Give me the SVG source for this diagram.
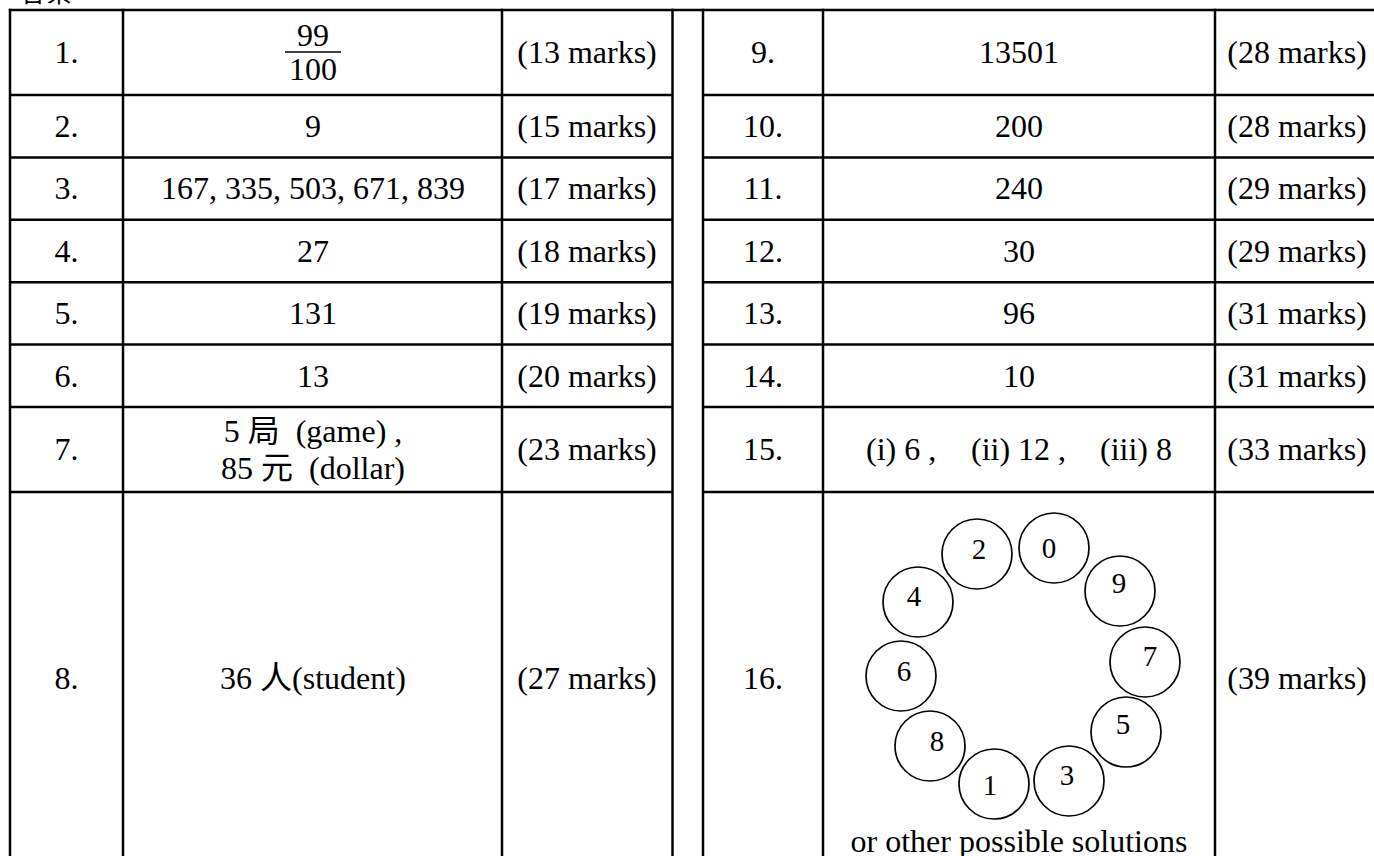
<svg xmlns="http://www.w3.org/2000/svg" width="1374" height="856" viewBox="0 0 1374 856">
<style>
.t{font-family:"Liberation Serif","Noto Sans CJK TC",serif;font-size:32px;text-anchor:middle;fill:#000}
.s{text-anchor:start}
.h{font-family:"Noto Sans CJK TC",sans-serif;font-size:26px;fill:#000}
.c{font-family:"Liberation Serif",serif;font-size:29px;text-anchor:middle;fill:#000}
.ln{stroke:#000;stroke-width:2.5;fill:none}
.ring{stroke:#000;stroke-width:1.7;fill:none}
</style>
<rect width="1374" height="856" fill="#fff"/>
<text class="h" x="20" y="2">答案</text>
<g id="grid">
<line class="ln" x1="8.8" y1="10" x2="1380" y2="10"/>
<line class="ln" x1="10" y1="95" x2="672.5" y2="95"/>
<line class="ln" x1="10" y1="157.4" x2="672.5" y2="157.4"/>
<line class="ln" x1="10" y1="219.8" x2="672.5" y2="219.8"/>
<line class="ln" x1="10" y1="282.2" x2="672.5" y2="282.2"/>
<line class="ln" x1="10" y1="344.6" x2="672.5" y2="344.6"/>
<line class="ln" x1="10" y1="407" x2="672.5" y2="407"/>
<line class="ln" x1="10" y1="492" x2="672.5" y2="492"/>
<line class="ln" x1="703" y1="95" x2="1380" y2="95"/>
<line class="ln" x1="703" y1="157.4" x2="1380" y2="157.4"/>
<line class="ln" x1="703" y1="219.8" x2="1380" y2="219.8"/>
<line class="ln" x1="703" y1="282.2" x2="1380" y2="282.2"/>
<line class="ln" x1="703" y1="344.6" x2="1380" y2="344.6"/>
<line class="ln" x1="703" y1="407" x2="1380" y2="407"/>
<line class="ln" x1="703" y1="492" x2="1380" y2="492"/>
<line class="ln" x1="10" y1="8.8" x2="10" y2="870"/>
<line class="ln" x1="123" y1="8.8" x2="123" y2="870"/>
<line class="ln" x1="502" y1="8.8" x2="502" y2="870"/>
<line class="ln" x1="672.5" y1="8.8" x2="672.5" y2="870"/>
<line class="ln" x1="703" y1="8.8" x2="703" y2="870"/>
<line class="ln" x1="823" y1="8.8" x2="823" y2="870"/>
<line class="ln" x1="1215" y1="8.8" x2="1215" y2="870"/>
</g>
<g id="connectors"></g>
<g id="row1">
<text class="t" x="66.5" y="63.3">1.</text>
<text class="t" x="313" y="46">99</text>
<line x1="285" y1="52" x2="341" y2="52" stroke="#000" stroke-width="1.6"/>
<text class="t" x="313" y="79.5">100</text>
<text class="t" x="587" y="63.3">(13 marks)</text>
</g>
<g id="row2">
<text class="t" x="66.5" y="137">2.</text>
<text class="t" x="313" y="137">9</text>
<text class="t" x="587" y="137">(15 marks)</text>
</g>
<g id="row3">
<text class="t" x="66.5" y="199.4">3.</text>
<text class="t" x="313" y="199.4">167, 335, 503, 671, 839</text>
<text class="t" x="587" y="199.4">(17 marks)</text>
</g>
<g id="row4">
<text class="t" x="66.5" y="261.8">4.</text>
<text class="t" x="313" y="261.8">27</text>
<text class="t" x="587" y="261.8">(18 marks)</text>
</g>
<g id="row5">
<text class="t" x="66.5" y="324.2">5.</text>
<text class="t" x="313" y="324.2">131</text>
<text class="t" x="587" y="324.2">(19 marks)</text>
</g>
<g id="row6">
<text class="t" x="66.5" y="386.6">6.</text>
<text class="t" x="313" y="386.6">13</text>
<text class="t" x="587" y="386.6">(20 marks)</text>
</g>
<g id="row7">
<text class="t" x="66.5" y="460.3">7.</text>
<text class="t" x="313" y="442" xml:space="preserve">5 局  (game) ,</text>
<text class="t" x="313" y="479" xml:space="preserve">85 元  (dollar)</text>
<text class="t" x="587" y="460.3">(23 marks)</text>
</g>
<g id="row8">
<text class="t" x="66.5" y="689">8.</text>
<text class="t" x="313" y="689">36 人(student)</text>
<text class="t" x="587" y="689">(27 marks)</text>
</g>
<g id="row9">
<text class="t" x="763" y="63.3">9.</text>
<text class="t" x="1019" y="63.3">13501</text>
<text class="t" x="1297" y="63.3">(28 marks)</text>
</g>
<g id="row10">
<text class="t" x="763" y="137">10.</text>
<text class="t" x="1019" y="137">200</text>
<text class="t" x="1297" y="137">(28 marks)</text>
</g>
<g id="row11">
<text class="t" x="763" y="199.4">11.</text>
<text class="t" x="1019" y="199.4">240</text>
<text class="t" x="1297" y="199.4">(29 marks)</text>
</g>
<g id="row12">
<text class="t" x="763" y="261.8">12.</text>
<text class="t" x="1019" y="261.8">30</text>
<text class="t" x="1297" y="261.8">(29 marks)</text>
</g>
<g id="row13">
<text class="t" x="763" y="324.2">13.</text>
<text class="t" x="1019" y="324.2">96</text>
<text class="t" x="1297" y="324.2">(31 marks)</text>
</g>
<g id="row14">
<text class="t" x="763" y="386.6">14.</text>
<text class="t" x="1019" y="386.6">10</text>
<text class="t" x="1297" y="386.6">(31 marks)</text>
</g>
<g id="row15">
<text class="t" x="763" y="460.3">15.</text>
<text class="t s" y="460.3"><tspan x="866">(i) 6 ,</tspan><tspan x="971">(ii) 12 ,</tspan><tspan x="1100">(iii) 8</tspan></text>
<text class="t" x="1297" y="460.3">(33 marks)</text>
</g>
<g id="row16">
<text class="t" x="763" y="689">16.</text>
<text class="t" x="1297" y="689">(39 marks)</text>
<text class="t" x="1019" y="852">or other possible solutions</text>
</g>
<g id="circle-2"><circle class="ring" cx="977" cy="554" r="35"/><text class="c" x="979" y="559">2</text></g>
<g id="circle-0"><circle class="ring" cx="1054" cy="548" r="35"/><text class="c" x="1049" y="558">0</text></g>
<g id="circle-9"><circle class="ring" cx="1120" cy="591" r="35"/><text class="c" x="1119" y="593">9</text></g>
<g id="circle-4"><circle class="ring" cx="918" cy="602" r="35"/><text class="c" x="914" y="606">4</text></g>
<g id="circle-7"><circle class="ring" cx="1145" cy="662" r="35"/><text class="c" x="1150" y="666">7</text></g>
<g id="circle-6"><circle class="ring" cx="901" cy="676" r="35"/><text class="c" x="904" y="681">6</text></g>
<g id="circle-8"><circle class="ring" cx="930" cy="746" r="35"/><text class="c" x="937" y="751">8</text></g>
<g id="circle-1"><circle class="ring" cx="994" cy="784" r="35"/><text class="c" x="990" y="795">1</text></g>
<g id="circle-3"><circle class="ring" cx="1069" cy="781" r="35"/><text class="c" x="1067" y="785">3</text></g>
<g id="circle-5"><circle class="ring" cx="1126" cy="732" r="35"/><text class="c" x="1123" y="734">5</text></g>
</svg>
